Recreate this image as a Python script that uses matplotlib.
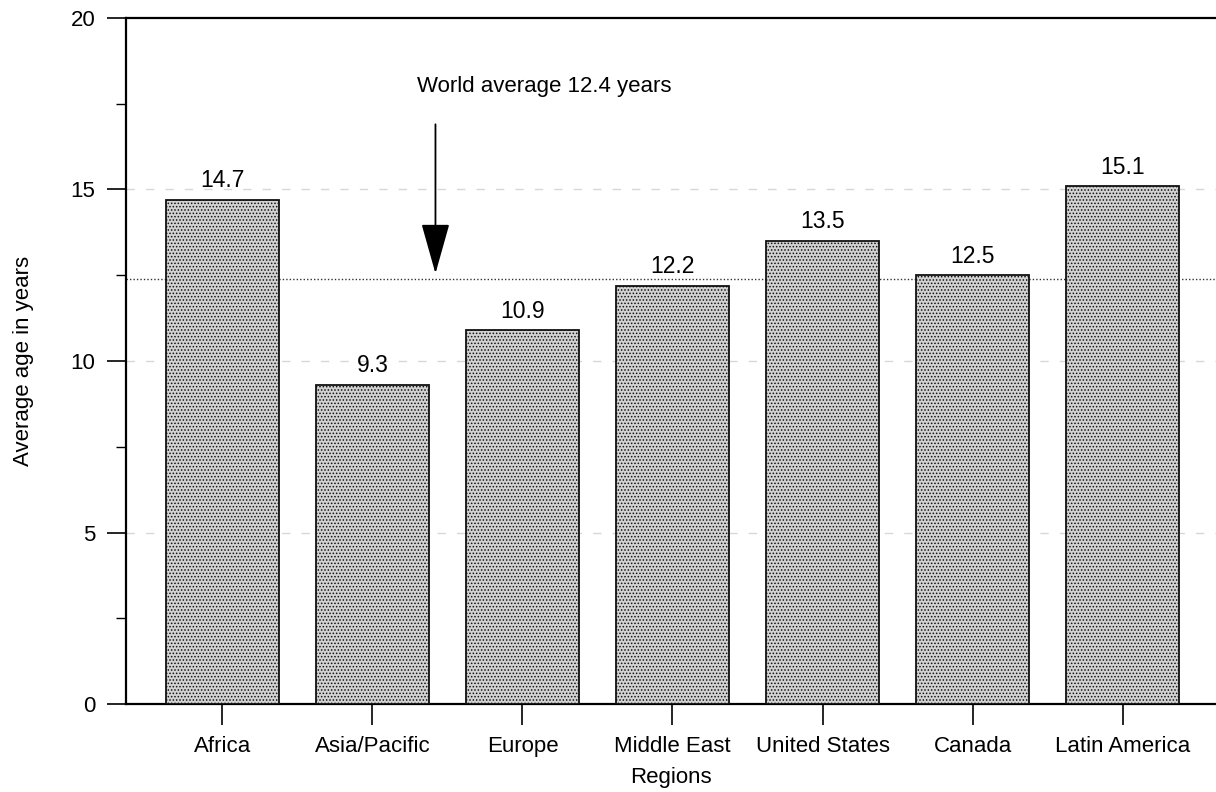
import matplotlib
matplotlib.use("Agg")
import matplotlib.pyplot as plt
from matplotlib.ticker import MultipleLocator

regions = ["Africa", "Asia/Pacific", "Europe", "Middle East",
           "United States", "Canada", "Latin America"]
avg_age = [14.7, 9.3, 10.9, 12.2, 13.5, 12.5, 15.1]
world_avg = 12.4
yticks = [0, 5, 10, 15, 20]

plt.rcParams['font.family'] = ['Liberation Sans', 'DejaVu Sans']
plt.rcParams['hatch.linewidth'] = 0.7
plt.rcParams['hatch.color'] = '#5a5a5a'

fig = plt.figure(figsize=(12.16, 7.92), dpi=100)
ax = fig.add_axes([0.1036, 0.1111, 0.8964, 0.8662])

x = list(range(len(regions)))
ax.bar(x, avg_age, width=0.755, color='#d2d2d2', edgecolor='#111111',
       linewidth=1.3, hatch='.....', zorder=3)

for xi, v in zip(x, avg_age):
    ax.text(xi, v + 0.22, f"{v}", ha='center', va='bottom', fontsize=16.5, zorder=4)

# faint reference lines
for yv in (5, 10, 15):
    ax.axhline(yv, color='#bdbdbd', lw=1.0, ls=(0, (6, 8)), alpha=0.6, zorder=1)

# world average
ax.axhline(world_avg, color='#333333', lw=1.0, ls=(0, (1, 1.5)), zorder=2)
ax.annotate("", xy=(1.42, world_avg + 0.15), xytext=(1.42, 16.9),
            arrowprops=dict(arrowstyle='-|>,head_length=3.2,head_width=0.9',
                            color='black', lw=1.3, shrinkA=0, shrinkB=0), zorder=5)
ax.text(1.30, 18.0, f"World average {world_avg} years", ha='left', va='center',
        fontsize=16)

ax.set_xlim(-0.643, 6.623)
ax.set_ylim(0, 20)
ax.set_yticks(yticks)
ax.yaxis.set_minor_locator(MultipleLocator(2.5))
ax.set_xticks(x)
ax.set_xticklabels(regions)

ax.tick_params(axis='y', which='major', direction='out', length=14, width=1.2,
               labelsize=16, pad=8)
ax.tick_params(axis='y', which='minor', direction='out', length=7, width=1.0)
ax.tick_params(axis='x', which='major', direction='out', length=15, width=1.2,
               labelsize=16, pad=8)

for s in ('left', 'bottom', 'top'):
    ax.spines[s].set_linewidth(1.6)
ax.spines['right'].set_visible(False)

ax.set_ylabel("Average age in years", fontsize=16, labelpad=26)
ax.set_xlabel("Regions", fontsize=16, labelpad=7)

fig.savefig("out.png", dpi=100)
